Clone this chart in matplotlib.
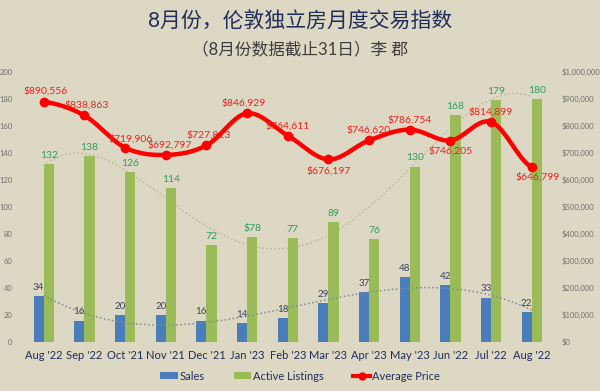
#Monthly London detached house transaction index: sales, active listings and average price
import numpy as np
import matplotlib.pyplot as plt

plt.rcParams['font.family'] = ['Lato', 'Noto Sans CJK SC', 'DejaVu Sans']

months = ["Aug '22", "Sep '22", "Oct '21", "Nov '21", "Dec '21", "Jan '23", "Feb '23",
          "Mar '23", "Apr '23", "May '23", "Jun '22", "Jul '22", "Aug '22"]
sales = [34, 16, 20, 20, 16, 14, 18, 29, 37, 48, 42, 33, 22]
listings = [132, 138, 126, 114, 72, 78, 77, 89, 76, 130, 168, 179, 180]
listing_labels = ['132', '138', '126', '114', '72', '$78', '77', '89', '76', '130', '168', '179', '180']
price = [890556, 838863, 719906, 692797, 727813, 846929, 764611, 676197,
         746620, 786754, 746205, 814899, 646799]
# where each price label sits relative to its point (dx, dy in pixels)
price_offsets = [(2, 10), (2, 10), (6, 9), (4, 10), (2, 10), (-3, 10), (0, 10), (0, -12),
                 (0, 10), (0, 10), (0, -11), (0, 10), (6, -10)]

bg = '#DDD8C4'
blue = '#4A7EBB'
green = '#9BBB59'
red = '#FF0000'
navy = '#1F2D5A'

def smooth(y, n=20):
    # Catmull-Rom curve through the points, like Excel's smoothed line
    y = np.asarray(y, dtype=float)
    p = np.concatenate([[y[0]], y, [y[-1]]])
    xs, ys = [], []
    for i in range(len(y) - 1):
        t = np.linspace(0, 1, n, endpoint=False)
        p0, p1, p2, p3 = p[i], p[i + 1], p[i + 2], p[i + 3]
        yy = 0.5 * (2 * p1 + (-p0 + p2) * t + (2 * p0 - 5 * p1 + 4 * p2 - p3) * t ** 2
                    + (-p0 + 3 * p1 - 3 * p2 + p3) * t ** 3)
        xs.append(i + t)
        ys.append(yy)
    xs.append([len(y) - 1])
    ys.append([y[-1]])
    return np.concatenate(xs), np.concatenate(ys)

x = np.arange(len(months))
w = 0.25

fig = plt.figure(figsize=(6, 3.91), dpi=100, facecolor=bg)
ax = fig.add_axes([0.039, 0.125, 0.881, 0.691], facecolor=bg)
ax2 = ax.twinx()

ax.bar(x - w / 2, sales, w, color=blue, label='Sales', zorder=2)
ax.bar(x + w / 2, listings, w, color=green, label='Active Listings', zorder=2)

# polynomial trendlines
xt = np.linspace(0, len(months) - 1, 200)
ax.plot(xt, np.polyval(np.polyfit(x, sales, 3), xt), ':', color='#7D8A99', lw=1.1, zorder=3)
ax.plot(xt, np.polyval(np.polyfit(x, listings, 4), xt), ':', color='#BDB98E', lw=1.1, zorder=1)

for xi, v in zip(x, sales):
    ax.annotate(str(v), (xi - w / 2, v), xytext=(0, 3), textcoords='offset points',
                ha='center', va='bottom', fontsize=7, color='#3A4560', zorder=4)
for xi, v, s in zip(x, listings, listing_labels):
    ax.annotate(s, (xi + w / 2, v), xytext=(0, 3), textcoords='offset points',
                ha='center', va='bottom', fontsize=7.5, color='#2E9E5E', zorder=4)

sx, sy = smooth(price)
ax2.plot(sx, sy, color=red, lw=3.2, zorder=5)
ax2.plot(x, price, 'o', color=red, ms=6, zorder=5)
for xi, v, (dx, dy) in zip(x, price, price_offsets):
    ax2.annotate('${:,}'.format(v), (xi, v), xytext=(dx, dy), textcoords='offset pixels',
                 ha='center', va='center', fontsize=7.5, color='#E8231E', zorder=6)

ax.set_xlim(-0.5, len(months) - 0.5)
ax.set_ylim(0, 200)
ax.set_yticks(range(0, 201, 20))
ax2.set_ylim(0, 1000000)
ax2.set_yticks(range(0, 1000001, 100000))
ax2.set_yticklabels(['$0'] + ['${:,}'.format(v) for v in range(100000, 1000001, 100000)])
ax.set_xticks(x)
ax.set_xticklabels(months, fontsize=8, color=navy)

for a in (ax, ax2):
    for s in a.spines.values():
        s.set_visible(False)
    a.tick_params(length=0)
ax.tick_params(axis='y', labelsize=5.5, labelcolor='#707070', pad=8)
ax2.tick_params(axis='y', labelsize=5.5, labelcolor='#707070', pad=7)
ax.tick_params(axis='x', pad=6)
ax.set_zorder(ax2.get_zorder() - 1)
ax.patch.set_visible(True)
ax2.patch.set_visible(False)

fig.text(0.5, 0.945, '8月份，伦敦独立房月度交易指数', ha='center', va='center',
         fontsize=15, color=navy)
fig.text(0.5, 0.875, '（8月份数据截止31日）李 郡', ha='center', va='center',
         fontsize=12, color='#3C3C3C')

h1, l1 = ax.get_legend_handles_labels()
h2 = plt.Line2D([], [], color=red, lw=3, marker='o', ms=5)
fig.legend(h1 + [h2], l1 + ['Average Price'], loc='center', bbox_to_anchor=(0.5, 0.038),
           ncol=3, frameon=False, fontsize=8, labelcolor=navy, columnspacing=2.6,
           handlelength=1.6, handletextpad=0.15, handleheight=0.6)

fig.savefig('out.png', dpi=100, facecolor=bg)
